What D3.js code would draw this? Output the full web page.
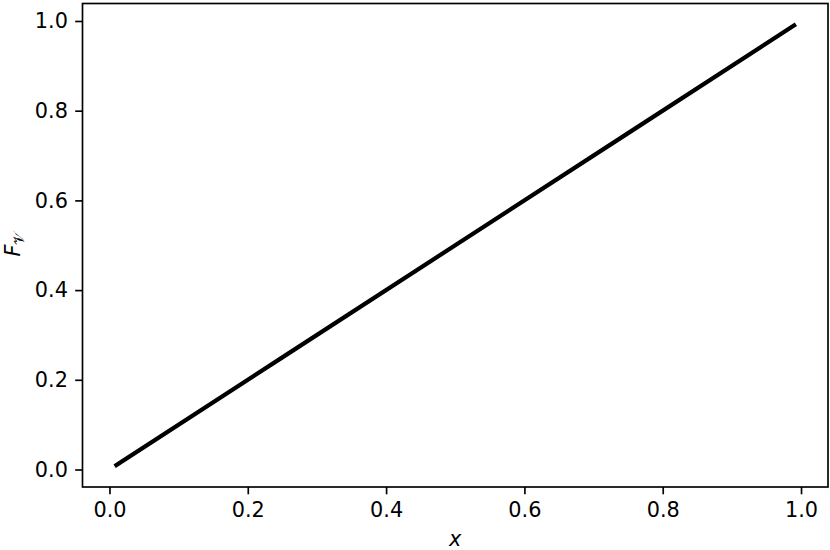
<!DOCTYPE html>
<meta charset="utf-8">
<style>
body { margin: 0; background: #fff; }
svg text { font-family: "DejaVu Sans", sans-serif; fill: #000; }
.tick text { font-size: 20.8px; }
</style>
<svg width="830" height="550"></svg>
<script src="https://d3js.org/d3.v7.min.js"></script>
<script>
  // values
  var xValues = [0.01, 0.25, 0.5, 0.75, 0.99];
  var fValues = [0.01, 0.25, 0.5, 0.75, 0.99];
  var xTicks = [0.0, 0.2, 0.4, 0.6, 0.8, 1.0];
  var yTicks = [0.0, 0.2, 0.4, 0.6, 0.8, 1.0];

  var svg = d3.select("svg"),
      plotLeft = 82.5, plotRight = 828, plotTop = 3.5, plotBottom = 487;

  var x = d3.scaleLinear().domain([-0.039, 1.039]).range([plotLeft, plotRight]);
  var y = d3.scaleLinear().domain([-0.039, 1.039]).range([plotBottom, plotTop]);

  var xAxis = svg.append("g")
      .attr("transform", "translate(0," + plotBottom + ")")
      .call(d3.axisBottom(x).tickValues(xTicks).tickFormat(d3.format(".1f"))
        .tickSize(7.3).tickPadding(7.3));
  var yAxis = svg.append("g")
      .attr("transform", "translate(" + plotLeft + ",0)")
      .call(d3.axisLeft(y).tickValues(yTicks).tickFormat(d3.format(".1f"))
        .tickSize(7.3).tickPadding(7.3));

  [xAxis, yAxis].forEach(function(a) {
    a.select(".domain").remove();
    a.selectAll(".tick line").attr("stroke", "#000").attr("stroke-width", 1.67);
    a.selectAll(".tick text").attr("fill", "#000");
  });
  xAxis.selectAll(".tick text").attr("dy", "0.76em");

  svg.append("path")
      .datum(d3.range(xValues.length))
      .attr("fill", "none")
      .attr("stroke", "#000")
      .attr("stroke-width", 4.2)
      .attr("stroke-linecap", "square")
      .attr("d", d3.line()
        .x(function(i) { return x(xValues[i]); })
        .y(function(i) { return y(fValues[i]); }));

  svg.append("rect")
      .attr("x", plotLeft).attr("y", plotTop)
      .attr("width", plotRight - plotLeft).attr("height", plotBottom - plotTop)
      .attr("fill", "none").attr("stroke", "#000").attr("stroke-width", 1.67);

  svg.append("text")
      .attr("x", (plotLeft + plotRight) / 2).attr("y", 546)
      .attr("text-anchor", "middle")
      .style("font-size", "20.8px").style("font-style", "italic")
      .text("x");

  var yl = svg.append("text")
      .attr("transform", "translate(19.5,244) rotate(-90)")
      .attr("text-anchor", "middle")
      .style("font-size", "20.8px");
  yl.append("tspan").style("font-style", "italic").text("F");
  yl.append("tspan").attr("dy", 4).style("font-size", "14.5px").text("\uD835\uDCB1");
</script>
